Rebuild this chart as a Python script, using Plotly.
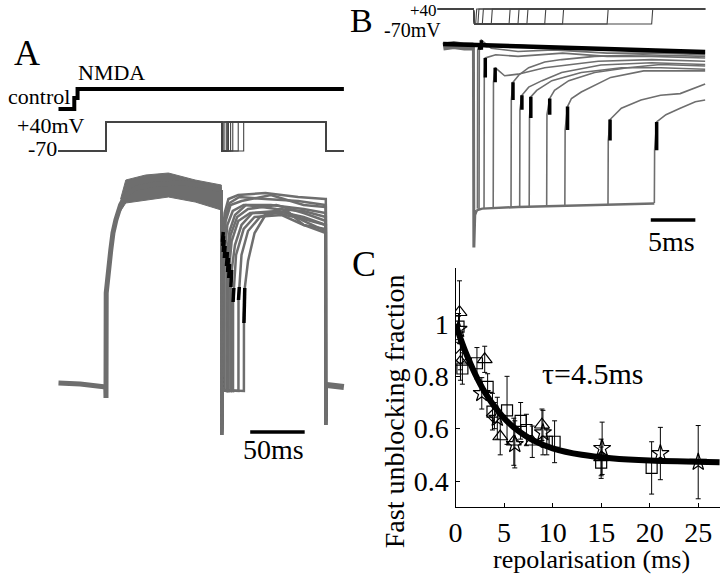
import plotly.graph_objects as go

W, H = 720, 575
FONT = "Liberation Serif, Times New Roman, Times, serif"
GREY = "#6e6e6e"

# ---------------- Panel C data (fraction vs repolarisation, ms) ----------------
tri_x = [0.4, 0.5, 3.0, 4.6, 6.0, 7.9, 8.9, 15.0]
tri_y = [1.045, 0.855, 0.865, 0.57, 0.55, 0.55, 0.615, 0.49]
tri_err = [0.12, 0.07, 0.05, 0.07, 0.09, 0.06, 0.06, 0.07]

sq_x = [0.3, 0.7, 2.2, 3.3, 3.8, 5.3, 6.7, 7.3, 9.4, 10.2, 15.0, 20.2]
sq_y = [0.99, 0.83, 0.85, 0.76, 0.665, 0.67, 0.63, 0.595, 0.55, 0.55, 0.47, 0.45]
sq_err = [0.05, 0.06, 0.06, 0.05, 0.07, 0.13, 0.07, 0.06, 0.05, 0.08, 0.06, 0.1]

star_x = [0.3, 2.7, 4.3, 6.1, 9.0, 15.1, 21.1, 25.0]
star_y = [0.98, 0.735, 0.64, 0.54, 0.585, 0.525, 0.505, 0.472]
star_err = [0.05, 0.06, 0.08, 0.09, 0.085, 0.1, 0.1, 0.14]

dia_x = [0.5, 4.0]
dia_y = [0.875, 0.65]
dia_err = [0.05, 0.05]

fit_x = [0, 0.5, 1, 2, 3, 4, 5, 6, 8, 10, 13, 16, 20, 27.2]
fit_y = [1.0, 0.945, 0.895, 0.81, 0.74, 0.685, 0.64, 0.605, 0.555, 0.525, 0.5, 0.487, 0.478, 0.472]

c_xticks = [0, 5, 10, 15, 20, 25]
c_yticks = [0.4, 0.6, 0.8, 1.0]
c_yticktext = ["0.4", "0.6", "0.8", "1"]

# ---------------- Panel A data (time ms, current normalised) ----------------
delays = [0.25, 0.5, 1, 2, 4, 5, 6, 8, 10, 15, 20]

sol_t = [0, 14.5, 14.5, 17.5, 17.5, 262]
sol_v = [0, 0, 0.55, 0.55, 1, 1]

a_step_on, a_repol, a_step_off, a_end = 43.6, 150.0, 245.5, 262.0

a_pre_t = [0, 20, 43.4, 43.6, 43.8, 46, 48, 50, 52.7, 57, 62, 71, 89, 116, 134.5, 149.5]
a_pre_i = [0.01, 0.005, -0.01, -0.065, 0.46, 0.6, 0.675, 0.76, 0.825, 0.9, 0.95, 0.985, 1.005, 1.01, 0.995, 0.975]

a_band_up_t = [57, 61.8, 80, 100.9, 125.5, 149.5]
a_band_up_i = [0.93, 1.025, 1.05, 1.06, 1.025, 1.0]
a_band_lo_t = [57, 61.8, 80, 100.9, 125.5, 149.5]
a_band_lo_i = [0.87, 0.91, 0.925, 0.94, 0.915, 0.875]

a_tick_lo = [0.715, 0.695, 0.665, 0.635, 0.595, 0.565, 0.535, 0.49, 0.415, 0.425, 0.31]
a_tick_hi = [0.765, 0.745, 0.725, 0.695, 0.665, 0.635, 0.605, 0.575, 0.485, 0.49, 0.485]

a_rec_t = [
    [152.5, 156, 165, 190, 220, 245],
    [153, 157, 166, 190, 220, 245],
    [153.5, 158, 168, 195, 225, 245],
    [155, 160, 170, 195, 225, 245],
    [157, 162, 172, 200, 225, 245],
    [158, 164, 174, 200, 225, 245],
    [159, 165, 176, 200, 225, 245],
    [162, 168, 178, 200, 225, 245],
    [163, 170, 180, 205, 225, 245],
    [168, 174, 185, 205, 225, 245],
    [174, 180, 190, 210, 225, 245],
]
a_rec_i = [
    [0.86, 0.93, 0.95, 0.96, 0.94, 0.93],
    [0.84, 0.91, 0.94, 0.93, 0.92, 0.9],
    [0.82, 0.9, 0.92, 0.95, 0.9, 0.89],
    [0.8, 0.87, 0.9, 0.9, 0.88, 0.86],
    [0.77, 0.85, 0.9, 0.88, 0.87, 0.84],
    [0.75, 0.84, 0.88, 0.9, 0.86, 0.82],
    [0.72, 0.82, 0.86, 0.86, 0.83, 0.8],
    [0.7, 0.8, 0.86, 0.87, 0.84, 0.8],
    [0.65, 0.78, 0.84, 0.85, 0.8, 0.78],
    [0.65, 0.77, 0.84, 0.88, 0.82, 0.77],
    [0.62, 0.76, 0.85, 0.87, 0.8, 0.76],
]
a_post_t = [246.3, 262]
a_post_i = [0.0, -0.01]
a_scale_t = [176, 226]
a_scale_i = [-0.235, -0.235]

# ---------------- Panel B data (time ms from repolarisation) ----------------
b_rise_t = [0.45, 0.63, 1.19, 2.22, 4.22, 5.19, 6.26, 8.22, 10.26, 15.1, 20.3]
b_bottom = [-0.01, -0.012, -0.012, -0.006, 0, 0, 0, 0.006, 0.012, 0.012, 0.025]
b_tick_t = [0.7, 0.89, 1.33, 2.44, 4.44, 5.44, 6.44, 8.56, 10.56, 15.33, 20.56]
b_tick_lo = [0.97, 0.97, 0.80, 0.77, 0.66, 0.60, 0.55, 0.57, 0.475, 0.41, 0.35]
b_tick_hi = [1.0, 1.03, 0.92, 0.86, 0.77, 0.69, 0.68, 0.67, 0.62, 0.54, 0.525]
b_rec_t = [
    [1.5, 5, 10, 16, 22, 26],
    [2, 5, 9, 15, 21, 26],
    [2.5, 5, 10, 15, 20, 26],
    [3.5, 5, 8, 14, 20, 26],
    [5.1, 6.2, 8, 9.9, 13.6, 19, 26],
    [6.2, 7.7, 9.9, 14.3, 20, 26],
    [7.1, 8.8, 12.1, 16.6, 21, 26],
    [9.1, 10.7, 13.6, 17.3, 21, 26],
    [11, 12.1, 13.6, 15.4, 19.1, 26],
    [16.6, 18.8, 21, 23.2, 25.4, 26],
    [21.6, 23.2, 24.9, 26],
]
b_rec_i = [
    [0.99, 1.0, 0.98, 0.97, 0.96, 0.95],
    [0.98, 0.96, 0.97, 0.95, 0.95, 0.94],
    [0.94, 0.93, 0.95, 0.93, 0.93, 0.92],
    [0.81, 0.82, 0.86, 0.9, 0.91, 0.9],
    [0.815, 0.86, 0.895, 0.91, 0.93, 0.94, 0.93],
    [0.74, 0.78, 0.83, 0.877, 0.89, 0.88],
    [0.72, 0.78, 0.83, 0.86, 0.86, 0.85],
    [0.72, 0.78, 0.83, 0.86, 0.88, 0.87],
    [0.67, 0.71, 0.753, 0.80, 0.84, 0.84],
    [0.61, 0.66, 0.69, 0.70, 0.75, 0.76],
    [0.57, 0.61, 0.65, 0.66],
]
b_pre_t = [-3.4, -2.2, -1.0, 0]
b_pre_i = [0.99, 1.0, 0.99, 0.99]
b_drop_t = [0, 0.05, 0.15, 0.35]
b_drop_i = [0.99, -0.25, -0.05, -0.02]
b_bot_t = [0.35, 1, 5, 10, 15, 20.3]
b_bot_i = [-0.02, -0.01, 0, 0.006, 0.012, 0.022]
b_base_t = [-3.4, 26]
b_base_i = [1.006, 0.957]
b_scale_t = [19.9, 24.9]
b_scale_i = [-0.08, -0.08]
b_prot_start, b_prot_end = -4.0, 26.0
V_HOLD, V_DEP = -70, 40

# ---------------- helpers (layout only) ----------------
def rng(p_a, p_b, pa, va, pb, vb):
    k = (vb - va) / (pb - pa)
    return [va + (p_a - pa) * k, va + (p_b - pa) * k]

def xdom(l, r):
    return [l / W, r / W]

def ydom(bot, top):
    return [1 - bot / H, 1 - top / H]

def px(x):
    return x / W

def py(y):
    return 1 - y / H

fig = go.Figure()

# ---------------- Panel A ----------------
fig.add_trace(go.Scatter(x=sol_t, y=sol_v, xaxis="x2", yaxis="y4", mode="lines",
                         line=dict(color="black", width=4)))
for d in delays:
    t = [0, a_step_on, a_step_on, a_repol, a_repol, a_repol + d, a_repol + d,
         a_step_off, a_step_off, a_end]
    v = [V_HOLD, V_HOLD, V_DEP, V_DEP, V_HOLD, V_HOLD, V_DEP, V_DEP, V_HOLD, V_HOLD]
    fig.add_trace(go.Scatter(x=t, y=v, xaxis="x2", yaxis="y3", mode="lines",
                             line=dict(color="#444444", width=1.1)))

fig.add_trace(go.Scatter(x=a_band_up_t + a_band_lo_t[::-1], y=a_band_up_i + a_band_lo_i[::-1],
                         xaxis="x2", yaxis="y2", mode="lines", fill="toself",
                         fillcolor=GREY, line=dict(color=GREY, width=1)))
fig.add_trace(go.Scatter(x=a_pre_t, y=a_pre_i, xaxis="x2", yaxis="y2", mode="lines",
                         line=dict(color=GREY, width=5)))
for k, d in enumerate(delays):
    tr = a_repol + d
    t = [a_pre_t[-1], a_repol, a_repol + 0.8]
    i = [a_pre_i[-1], -0.25, -0.025]
    if tr + 0.2 > a_repol + 0.8:
        t.append(tr + 0.2)
        i.append(-0.03)
    t += [tr + 0.25, tr + 1.0] + a_rec_t[k] + [a_step_off - 0.1, a_step_off, a_post_t[0]]
    i += [a_tick_lo[k], a_tick_hi[k]] + a_rec_i[k] + [a_rec_i[k][-1], -0.2, a_post_i[0]]
    fig.add_trace(go.Scatter(x=t, y=i, xaxis="x2", yaxis="y2", mode="lines",
                             line=dict(color=GREY, width=2.5)))
fig.add_trace(go.Scatter(x=a_post_t, y=a_post_i, xaxis="x2", yaxis="y2", mode="lines",
                         line=dict(color=GREY, width=6)))
for k, d in enumerate(delays):
    tr = a_repol + d
    fig.add_trace(go.Scatter(x=[tr + 0.25, tr + 1.0], y=[a_tick_lo[k], a_tick_hi[k]],
                             xaxis="x2", yaxis="y2", mode="lines",
                             line=dict(color="black", width=3.5)))
fig.add_trace(go.Scatter(x=a_scale_t, y=a_scale_i, xaxis="x2", yaxis="y2", mode="lines",
                         line=dict(color="black", width=3.5)))

# ---------------- Panel B ----------------
for d in delays:
    t = [b_prot_start, 0, 0.12, d, d + 0.12, b_prot_end]
    v = [V_DEP, V_DEP, V_HOLD, V_HOLD, V_DEP, V_DEP]
    fig.add_trace(go.Scatter(x=t, y=v, xaxis="x3", yaxis="y6", mode="lines",
                             line=dict(color="#444444", width=1.1)))
fig.add_trace(go.Scatter(x=b_pre_t, y=b_pre_i, xaxis="x3", yaxis="y5", mode="lines",
                         line=dict(color=GREY, width=8)))
fig.add_trace(go.Scatter(x=b_drop_t, y=b_drop_i, xaxis="x3", yaxis="y5", mode="lines",
                         line=dict(color=GREY, width=3)))
fig.add_trace(go.Scatter(x=b_bot_t, y=b_bot_i, xaxis="x3", yaxis="y5", mode="lines",
                         line=dict(color=GREY, width=2.5)))
for k, d in enumerate(delays):
    t = [b_rise_t[k], b_rise_t[k] + 0.03, b_tick_t[k]] + b_rec_t[k]
    i = [b_bottom[k], b_tick_lo[k], b_tick_hi[k]] + b_rec_i[k]
    fig.add_trace(go.Scatter(x=t, y=i, xaxis="x3", yaxis="y5", mode="lines",
                             line=dict(color=GREY, width=1.6)))
fig.add_trace(go.Scatter(x=b_base_t, y=b_base_i, xaxis="x3", yaxis="y5", mode="lines",
                         line=dict(color="black", width=4.5)))
for k, d in enumerate(delays):
    fig.add_trace(go.Scatter(x=[b_tick_t[k], b_tick_t[k]], y=[b_tick_lo[k], b_tick_hi[k]],
                             xaxis="x3", yaxis="y5", mode="lines",
                             line=dict(color="black", width=3.5)))
fig.add_trace(go.Scatter(x=b_scale_t, y=b_scale_i, xaxis="x3", yaxis="y5", mode="lines",
                         line=dict(color="black", width=3.5)))

# ---------------- Panel C ----------------
def err(arr):
    return dict(type="data", array=arr, color="black", thickness=1, width=2.5)

mk = dict(color="black", size=12, line=dict(color="black", width=1.2))
fig.add_trace(go.Scatter(x=tri_x, y=tri_y, mode="markers", error_y=err(tri_err),
                         marker=dict(mk, symbol="triangle-up-open", size=13)))
fig.add_trace(go.Scatter(x=sq_x, y=sq_y, mode="markers", error_y=err(sq_err),
                         marker=dict(mk, symbol="square-open", size=11)))
fig.add_trace(go.Scatter(x=star_x, y=star_y, mode="markers", error_y=err(star_err),
                         marker=dict(mk, symbol="star-open", size=13)))
fig.add_trace(go.Scatter(x=dia_x, y=dia_y, mode="markers", error_y=err(dia_err),
                         marker=dict(mk, symbol="diamond-open", size=12)))
fig.add_trace(go.Scatter(x=fit_x, y=fit_y, mode="lines",
                         line=dict(color="black", width=6, shape="spline")))

hidden = dict(visible=False, showgrid=False, zeroline=False)
tickfont = dict(family=FONT, size=28, color="black")

fig.update_layout(
    width=W, height=H, margin=dict(l=0, r=0, t=0, b=0),
    paper_bgcolor="white", plot_bgcolor="white", showlegend=False,
    font=dict(family=FONT, color="black"),
    xaxis=dict(domain=xdom(453, 720), range=rng(453, 720, 453, 0, 502, 5),
               showline=True, linecolor="black", linewidth=1.3, ticks="inside",
               ticklen=4, tickcolor="black", tickvals=c_xticks, showgrid=False,
               zeroline=False, tickfont=tickfont, anchor="y"),
    yaxis=dict(domain=ydom(507, 268), range=rng(507, 268, 324, 1.0, 481, 0.4),
               showline=True, linecolor="black", linewidth=1.3, ticks="inside",
               ticklen=4, tickcolor="black", tickvals=c_yticks, ticktext=c_yticktext,
               showgrid=False, zeroline=False, tickfont=tickfont, anchor="x"),
    xaxis2=dict(hidden, domain=xdom(0, 360), range=rng(0, 360, 52, 0, 63, 10), anchor="y2"),
    yaxis2=dict(hidden, domain=ydom(445, 160), range=rng(445, 160, 385, 0, 185, 1), anchor="x2"),
    yaxis3=dict(hidden, domain=ydom(162, 112), range=rng(162, 112, 151, -70, 122, 40), anchor="x2"),
    yaxis4=dict(hidden, domain=ydom(115, 80), range=rng(115, 80, 109, 0, 89, 1), anchor="x2"),
    xaxis3=dict(hidden, domain=xdom(430, 720), range=rng(430, 720, 471, 0, 480, 1), anchor="y5"),
    yaxis5=dict(hidden, domain=ydom(255, 30), range=rng(255, 30, 207, 0, 45, 1), anchor="x3"),
    yaxis6=dict(hidden, domain=ydom(35, 0), range=rng(35, 0, 24, -70, 9, 40), anchor="x3"),
)

def txt(s, x, y, size, xanchor="center", angle=0):
    fig.add_annotation(text=s, x=px(x), y=py(y), xref="paper", yref="paper",
                       showarrow=False, xanchor=xanchor, yanchor="middle", textangle=angle,
                       font=dict(family=FONT, size=size, color="black"))

txt("A", 20, 53, 36)
txt("NMDA", 106, 72, 22)
txt("control", 66, 97, 22, xanchor="right")
txt("+40mV", 81, 126, 22, xanchor="right")
txt("-70", 53, 149, 22, xanchor="right")
txt("50ms", 269, 449, 28)
txt("B", 358, 20, 34)
txt("+40", 436, 10, 17, xanchor="right")
txt("-70mV", 440, 30, 20, xanchor="right")
txt("5ms", 671, 241, 28)
txt("C", 361, 264, 36)
txt("τ=4.5ms", 591, 373, 30)
txt("Fast unblocking fraction", 391, 411, 28, angle=-90)
txt("repolarisation (ms)", 590, 559, 26)

fig.write_html("out.html", config={"displayModeBar": False},
               post_script="document.body.style.margin='0';")
